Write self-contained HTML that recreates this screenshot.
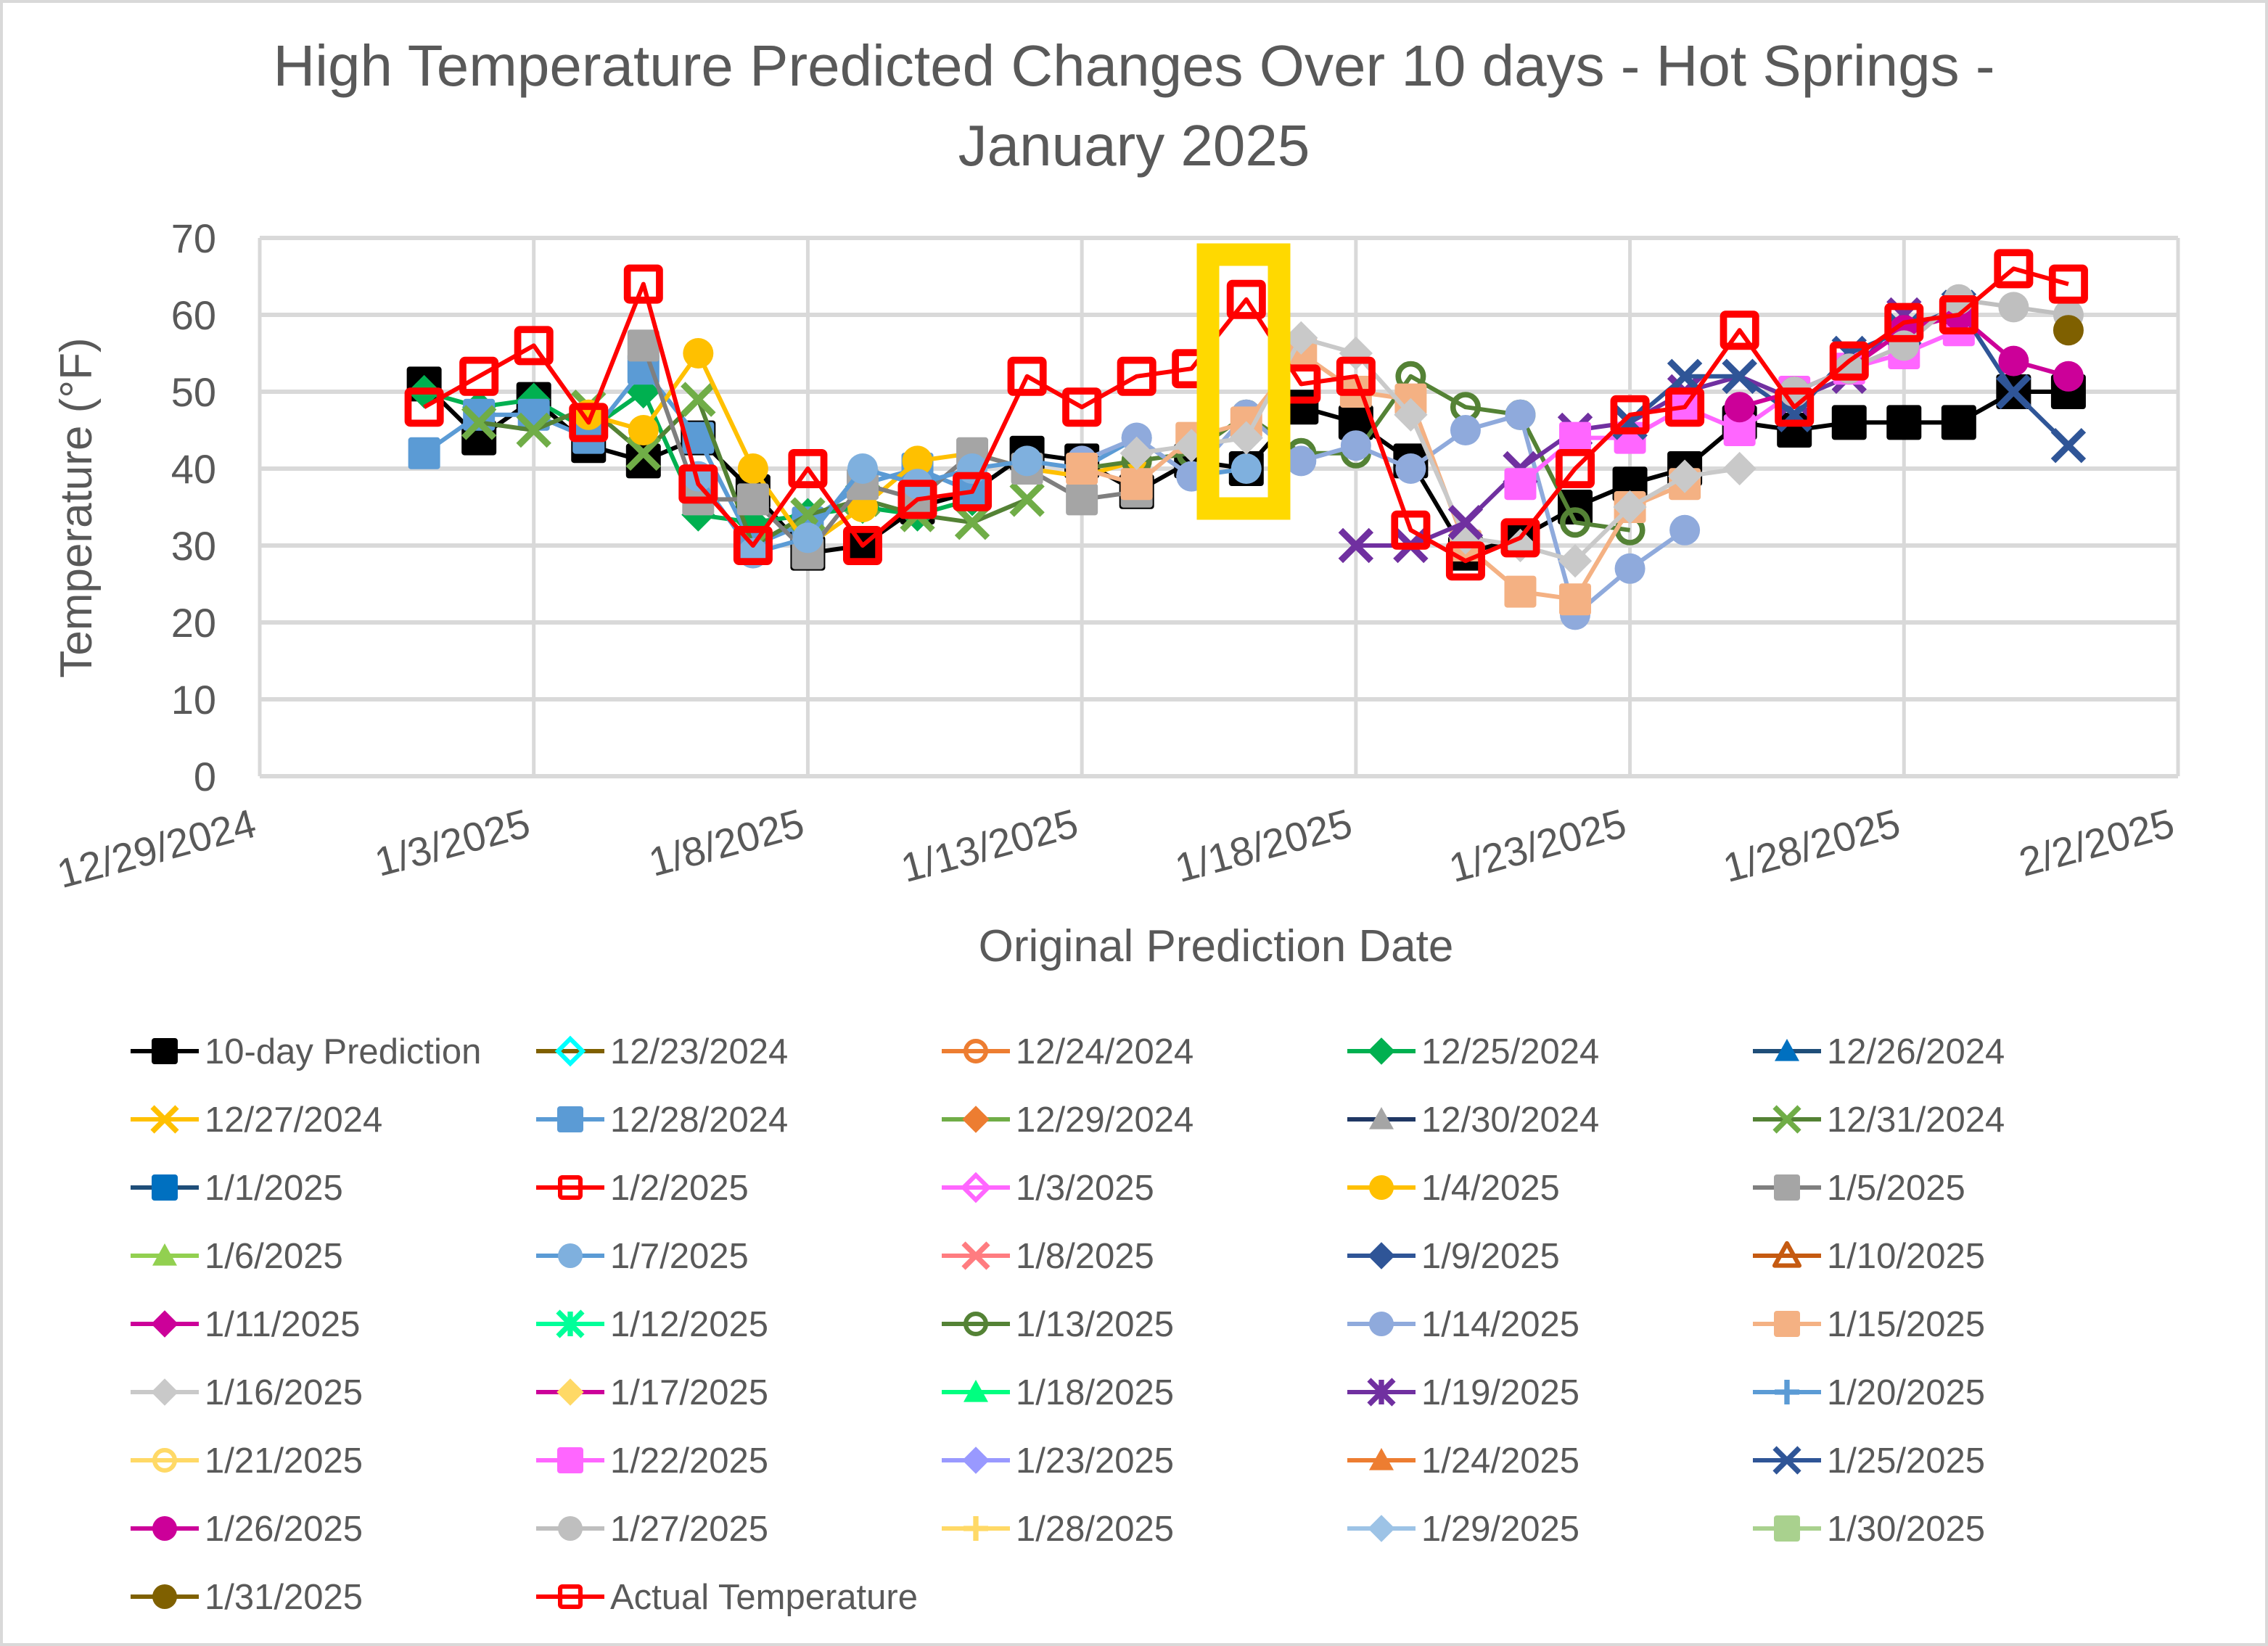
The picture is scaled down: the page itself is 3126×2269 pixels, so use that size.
<!DOCTYPE html>
<html><head><meta charset="utf-8">
<style>
html,body{margin:0;padding:0;background:#fff;}
svg{display:block;font-family:"Liberation Sans",sans-serif;}
</style></head>
<body>
<svg id="chart" width="3126" height="2269" viewBox="0 0 3126 2269" xmlns="http://www.w3.org/2000/svg">
<rect x="2" y="2" width="3122" height="2265" fill="#fff" stroke="#d9d9d9" stroke-width="4"/>
<text x="1563" y="118" font-size="80" fill="#595959" text-anchor="middle">High Temperature Predicted Changes Over 10 days - Hot Springs -</text>
<text x="1563" y="228" font-size="80" fill="#595959" text-anchor="middle">January 2025</text>
<g id="grid"></g>
<g id="series"></g>
<rect x="1665" y="351" width="98" height="350" fill="none" stroke="#ffd900" stroke-width="31"/>
<g id="axes"></g>
<text transform="translate(126,700) rotate(-90)" font-size="62" fill="#595959" text-anchor="middle">Temperature (°F)</text>
<text x="1676" y="1325" font-size="62" fill="#595959" text-anchor="middle">Original Prediction Date</text>
<g id="legend"></g>
</svg>
<script>
// ---- data ----
const yTicks = [0,10,20,30,40,50,60,70];
const xTickDays = [0,5,10,15,20,25,30,35];
const xTickLabels = ["12/29/2024","1/3/2025","1/8/2025","1/13/2025","1/18/2025","1/23/2025","1/28/2025","2/2/2025"];
// day index = days since 12/29/2024
const tenDayStart = 3;
const tenDayValues = [51,44,49,43,41,44,37,29,30,35,37,42,41,37,41,40,48,46,41,29,31,35,38,40,46,45,46,46,46,50,50];
const actualStart = 3;
const actualValues = [48,52,56,46,64,38,30,40,30,36,37,52,48,52,53,62,51,52,32,28,31,40,47,48,58,48,54,59,60,66,64];
const s1225 = [50,48,49,45,50,34,33,34,35,34,36];
const s1228 = [42,47,47,44,53,44,30,33,38,40,37];
const s1231 = [46,45,48,42,49,30,34,36,34,33,36];
const s0104 = [47,45,55,40,30,35,41,42,40,39,41];
const s0105 = [56,36,36,29,38,36,42,40,36,37];
const s0107 = [39,29,31,40,38,40,41,40,44,39,40];
const s0113 = [40,41,42,47,42,42,52,48,47,33,32];
const s0114 = [41,44,39,47,41,43,40,45,47,21,27,32];
const s0115 = [40,38,44,46,55,50,49,30,24,23,35,38];
const s0116 = [42,43,44,57,55,47,31,30,28,35,39,40];
const s0119 = [30,30,33,40,45,46,50,52,49,52,60];
const s0122 = [38,44,44,48,45,50,53,55,58];
const s0125 = [46,52,52,47,55,58,61,50,43];
const s0126 = [48,50,53,58,60,54,52];
const s0127 = [50,53,56,62,61,60];
const s0131 = [58];
const extraNames = ["s1225","s1228","s1231","s0104","s0105","s0107","s0113","s0114","s0115","s0116","s0119","s0122","s0125","s0126","s0127","s0131"];
const extraData = [s1225,s1228,s1231,s0104,s0105,s0107,s0113,s0114,s0115,s0116,s0119,s0122,s0125,s0126,s0127,s0131];
const extraStarts = [3,3,4,6,7,8,15,15,15,16,20,23,25,27,28,33];
const extraStyle = [["#00b050","#00b050","diamond"],["#5b9bd5","#5b9bd5","square"],["#548235","#70ad47","x"],["#ffc000","#ffc000","circle"],["#7f7f7f","#a5a5a5","square"],["#5b9bd5","#7fb0de","circle"],["#548235","#548235","ocircle"],["#8faadc","#8faadc","circle"],["#f4b183","#f4b183","square"],["#c9c9c9","#c9c9c9","diamond"],["#7030a0","#7030a0","x"],["#ff66ff","#ff66ff","square"],["#2f5597","#2f5597","x"],["#cc0099","#cc0099","circle"],["#bfbfbf","#bfbfbf","circle"],["#7f6000","#7f6000","circle"]];
const legendNames = ["10-day Prediction","12/23/2024","12/24/2024","12/25/2024","12/26/2024","12/27/2024","12/28/2024","12/29/2024","12/30/2024","12/31/2024","1/1/2025","1/2/2025","1/3/2025","1/4/2025","1/5/2025","1/6/2025","1/7/2025","1/8/2025","1/9/2025","1/10/2025","1/11/2025","1/12/2025","1/13/2025","1/14/2025","1/15/2025","1/16/2025","1/17/2025","1/18/2025","1/19/2025","1/20/2025","1/21/2025","1/22/2025","1/23/2025","1/24/2025","1/25/2025","1/26/2025","1/27/2025","1/28/2025","1/29/2025","1/30/2025","1/31/2025","Actual Temperature"];
const legendLine = ["#000","#7f6000","#ed7d31","#00b050","#1f4e79","#ffc000","#5b9bd5","#70ad47","#203864","#548235","#1f4e79","#ff0000","#ff66ff","#ffc000","#7f7f7f","#92d050","#5b9bd5","#ff7c80","#2f5597","#c55a11","#cc0099","#00ff99","#548235","#8faadc","#f4b183","#c9c9c9","#cc0099","#00ff80","#7030a0","#5b9bd5","#ffd966","#ff66ff","#9999ff","#ed7d31","#2f5597","#cc0099","#bfbfbf","#ffd966","#9dc3e6","#a9d18e","#7f6000","#ff0000"];
const legendMarkColor = ["#000","#00ffff","#ed7d31","#00b050","#0070c0","#ffc000","#5b9bd5","#ed7d31","#a5a5a5","#70ad47","#0070c0","#ff0000","#ff66ff","#ffc000","#a5a5a5","#92d050","#7fb0de","#ff7c80","#2f5597","#c55a11","#cc0099","#00ff99","#548235","#8faadc","#f4b183","#c9c9c9","#ffd966","#00ff80","#7030a0","#5b9bd5","#ffd966","#ff66ff","#9999ff","#ed7d31","#2f5597","#cc0099","#bfbfbf","#ffd966","#9dc3e6","#a9d18e","#7f6000","#ff0000"];
const legendMarker = ["square","odiamond","ocircle","diamond","triangle","x","square","diamond","triangle","x","square","osquare","odiamond","circle","square","triangle","circle","x","diamond","otriangle","diamond","star","ocircle","circle","square","diamond","diamond","triangle","star","plus","ocircle","square","diamond","triangle","x","circle","circle","plus","diamond","square","circle","osquare"];

// ---- scales ----
const X0=358, X1=3002, Y0=1070, YTOP=328;
function xs(d){return X0 + d*(X1-X0)/35;}
function ys(v){return Y0 - v*(Y0-YTOP)/70;}
const NS="http://www.w3.org/2000/svg";
function mk(tag, attrs, parent){const e=document.createElementNS(NS,tag);for(const k in attrs)e.setAttribute(k,attrs[k]);parent.appendChild(e);return e;}

const grid=document.getElementById('grid');
yTicks.forEach(v=>{
  const l=mk('line',{x1:X0,x2:X1,y1:ys(v),y2:ys(v),stroke:'#d9d9d9','stroke-width':6},grid);
  
  
});
xTickDays.forEach(d=>{
  const l=mk('line',{x1:xs(d),x2:xs(d),y1:YTOP,y2:Y0,stroke:'#d9d9d9','stroke-width':5},grid);
  
  
});
const axes=document.getElementById('axes');
yTicks.forEach(v=>{
  const t=mk('text',{x:298,y:ys(v)+20,'font-size':56,fill:'#595959','text-anchor':'end'},axes);
  t.textContent=v;
  
  
});
xTickDays.forEach((d,i)=>{
  const x=xs(d)-2, y=1152;
  const t=mk('text',{x:x,y:y,'font-size':56,fill:'#595959','text-anchor':'end',transform:`rotate(-15 ${x} ${y})`},axes);
  t.textContent=xTickLabels[i];
  
  
});

function marker(type,cx,cy,color,s,parent){
  const h=s/2; let e;
  const sw=s*0.18;
  switch(type){
    case 'square': e=mk('rect',{x:cx-h,y:cy-h,width:s,height:s,fill:color,stroke:color,'stroke-width':2,rx:3},parent);break;
    case 'osquare': e=mk('rect',{x:cx-h+sw/2,y:cy-h+sw/2,width:s-sw,height:s-sw,fill:'none',stroke:color,'stroke-width':sw,rx:3},parent);break;
    case 'circle': e=mk('circle',{cx:cx,cy:cy,r:h,fill:color},parent);break;
    case 'ocircle': e=mk('circle',{cx:cx,cy:cy,r:h-sw/2,fill:'none',stroke:color,'stroke-width':sw},parent);break;
    case 'diamond': e=mk('polygon',{points:`${cx},${cy-h*1.1} ${cx+h*1.1},${cy} ${cx},${cy+h*1.1} ${cx-h*1.1},${cy}`,fill:color},parent);break;
    case 'odiamond': e=mk('polygon',{points:`${cx},${cy-h} ${cx+h},${cy} ${cx},${cy+h} ${cx-h},${cy}`,fill:'none',stroke:color,'stroke-width':sw},parent);break;
    case 'triangle': e=mk('polygon',{points:`${cx},${cy-h} ${cx+h},${cy+h*0.8} ${cx-h},${cy+h*0.8}`,fill:color},parent);break;
    case 'otriangle': e=mk('polygon',{points:`${cx},${cy-h} ${cx+h},${cy+h*0.8} ${cx-h},${cy+h*0.8}`,fill:'none',stroke:color,'stroke-width':sw,'stroke-linejoin':'round'},parent);break;
    case 'x': e=mk('path',{d:`M${cx-h},${cy-h}L${cx+h},${cy+h}M${cx-h},${cy+h}L${cx+h},${cy-h}`,stroke:color,'stroke-width':sw*1.2,fill:'none'},parent);break;
    case 'plus': e=mk('path',{d:`M${cx-h},${cy}L${cx+h},${cy}M${cx},${cy-h}L${cx},${cy+h}`,stroke:color,'stroke-width':sw*1.2,fill:'none'},parent);break;
    default: e=mk('path',{d:`M${cx-h},${cy-h}L${cx+h},${cy+h}M${cx-h},${cy+h}L${cx+h},${cy-h}M${cx},${cy-h}L${cx},${cy+h}`,stroke:color,'stroke-width':sw*1.2,fill:'none'},parent);
  }
  return e;
}

const sg=document.getElementById('series');
function drawSeries(name,start,vals,lineC,markC,type,size){
  const g=mk('g',{},sg);
  
  
  const pts=vals.map((v,i)=>xs(start+i)+','+ys(v)).join(' ');
  const pl=mk('polyline',{points:pts,fill:'none',stroke:lineC,'stroke-width':6,'stroke-linejoin':'round'},g);
  
  
  vals.forEach((v,i)=>{
    const m=marker(type,xs(start+i),ys(v),markC,size,g);
    
    
  });
}
drawSeries('10-day-prediction',tenDayStart,tenDayValues,'#000','#000','square',46);
extraData.forEach((vals,i)=>drawSeries(extraNames[i],extraStarts[i],vals,extraStyle[i][0],extraStyle[i][1],extraStyle[i][2],42));
drawSeries('actual-temperature',actualStart,actualValues,'#ff0000','#ff0000','osquare',54);

const lg=document.getElementById('legend');
legendNames.forEach((n,i)=>{
  const col=i%5,row=Math.floor(i/5);
  const x=180+col*559, y=1449+row*94;
  const g=mk('g',{},lg);
  
  
  mk('line',{x1:x,x2:x+94,y1:y,y2:y,stroke:legendLine[i],'stroke-width':6},g);
  marker(legendMarker[i],x+47,y,legendMarkColor[i],34,g);
  const t=mk('text',{x:x+102,y:y+17,'font-size':49,fill:'#595959'},g);
  t.textContent=n;
});
</script>
</body></html>
